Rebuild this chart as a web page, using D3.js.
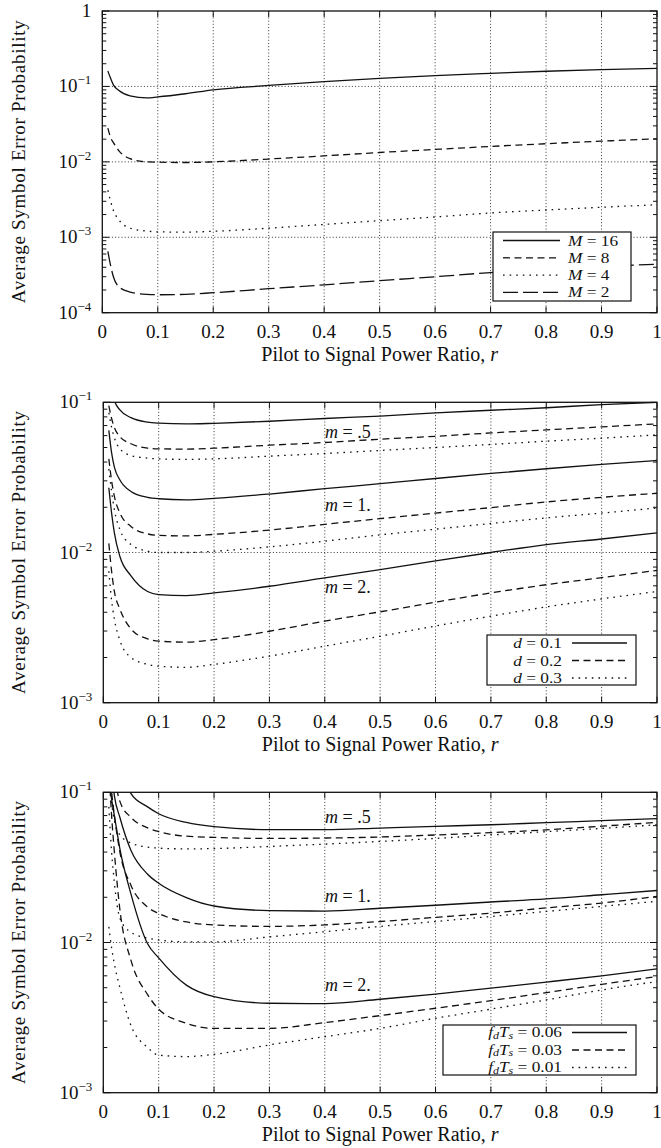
<!DOCTYPE html>
<html><head><meta charset="utf-8">
<script src="https://cdn.jsdelivr.net/npm/d3@7"></script>
<style>
html,body{margin:0;padding:0;background:#fff;}
svg text{font-family:"Liberation Serif","DejaVu Serif",serif;fill:#111;}
</style></head>
<body><svg id="c" width="661" height="1148"></svg>
<script>
// ---------- data ----------
const rVals = [0.01,0.015,0.02,0.03,0.05,0.08,0.1,0.15,0.2,0.3,0.4,0.5,0.6,0.7,0.8,0.9,1.0];
const xTicks = [0,0.1,0.2,0.3,0.4,0.5,0.6,0.7,0.8,0.9,1];
const xTickLabels = ["0","0.1","0.2","0.3","0.4","0.5","0.6","0.7","0.8","0.9","1"];

// Panel 1: M-ary
const p1Names = ["16","8","4","2"];
const p1M16 = [0.16,0.128,0.105,0.088,0.075,0.0705,0.0726,0.080,0.090,0.103,0.116,0.128,0.139,0.149,0.159,0.167,0.174];
const p1M8  = [0.028,0.021,0.018,0.014,0.011,0.0100,0.0099,0.0098,0.0100,0.0109,0.0120,0.0133,0.0146,0.0160,0.0174,0.0188,0.0202];
const p1M4  = [0.0042,0.0030,0.00227,0.0017,0.00132,0.00121,0.00118,0.00117,0.0012,0.00132,0.00148,0.00166,0.00186,0.0021,0.0023,0.0025,0.0027];
const p1M2  = [6.5e-4,4.2e-4,3.0e-4,2.2e-4,1.88e-4,1.75e-4,1.73e-4,1.75e-4,1.84e-4,2.08e-4,2.34e-4,2.66e-4,3.0e-4,3.4e-4,3.75e-4,4.1e-4,4.4e-4];

// Panel 2: d = 0.1, 0.2, 0.3 for m = .5, 1, 2
const p2Names = ["0.1","0.2","0.3"];
const p2m05d1 = [0.16,0.125,0.103,0.089,0.079,0.0738,0.0727,0.0718,0.0725,0.0748,0.078,0.081,0.085,0.0885,0.092,0.0965,0.100];
const p2m05d2 = [0.095,0.078,0.068,0.059,0.053,0.0495,0.049,0.0488,0.0495,0.0518,0.054,0.0568,0.0594,0.0625,0.0655,0.0686,0.0718];
const p2m05d3 = [0.085,0.068,0.058,0.049,0.0442,0.0425,0.042,0.0417,0.042,0.0438,0.0456,0.0478,0.050,0.0524,0.0551,0.0577,0.0607];
const p2m1d1  = [0.065,0.046,0.037,0.0304,0.0255,0.0233,0.0228,0.0224,0.0229,0.0245,0.0266,0.0287,0.0311,0.0336,0.0361,0.0386,0.041];
const p2m1d2  = [0.042,0.030,0.0236,0.0183,0.0149,0.0133,0.0130,0.0129,0.0132,0.0141,0.0154,0.0168,0.0183,0.0199,0.0217,0.0233,0.0248];
const p2m1d3  = [0.036,0.0255,0.0193,0.0142,0.0113,0.0102,0.0100,0.0100,0.0102,0.0109,0.0119,0.0131,0.0143,0.0156,0.0170,0.0183,0.0198];
const p2m2d1  = [0.027,0.0183,0.0135,0.0094,0.0070,0.0055,0.00525,0.00517,0.00538,0.00596,0.00677,0.0077,0.0088,0.0100,0.0113,0.0123,0.0135];
const p2m2d2  = [0.0115,0.0075,0.0055,0.0042,0.0031,0.00266,0.00257,0.00253,0.00263,0.00299,0.00349,0.00403,0.00467,0.00538,0.0061,0.0068,0.0076];
const p2m2d3  = [0.0075,0.0048,0.0036,0.0026,0.0020,0.0018,0.00175,0.00172,0.0018,0.00204,0.00238,0.00277,0.00324,0.00377,0.00434,0.00491,0.0055];

// Panel 3: fdTs = 0.06, 0.03, 0.01 for m = .5, 1, 2
const p3Names = ["0.06","0.03","0.01"];
const p3m05f06 = [0.5,0.3,0.22,0.15,0.098,0.080,0.072,0.063,0.059,0.0564,0.0564,0.0578,0.0593,0.0608,0.0628,0.0647,0.0667];
const p3m05f03 = [0.3,0.18,0.13,0.087,0.068,0.058,0.0547,0.051,0.0501,0.0493,0.0496,0.0504,0.052,0.0539,0.0562,0.0595,0.063];
const p3m05f01 = [0.13,0.085,0.065,0.052,0.046,0.0432,0.0425,0.042,0.0422,0.0436,0.0452,0.0471,0.0493,0.052,0.0547,0.0575,0.0608];
const p3m1f06  = [0.22,0.14,0.095,0.068,0.041,0.0285,0.0248,0.0199,0.0175,0.0163,0.0162,0.0169,0.0177,0.0186,0.0195,0.0208,0.0222];
const p3m1f03  = [0.14,0.10,0.07,0.04,0.024,0.0172,0.0156,0.0137,0.0131,0.0128,0.0131,0.0138,0.0147,0.0157,0.0170,0.0183,0.0203];
const p3m1f01  = [0.08,0.04,0.025,0.0145,0.0117,0.0107,0.0104,0.0101,0.0101,0.0109,0.0118,0.0128,0.0138,0.0149,0.0161,0.0174,0.0188];
const p3m2f06  = [0.13,0.09,0.07,0.042,0.021,0.0098,0.0079,0.0052,0.00436,0.00394,0.00392,0.00419,0.00453,0.00497,0.00545,0.0060,0.00667];
const p3m2f03  = [0.15,0.07,0.04,0.0165,0.0076,0.0045,0.0036,0.0029,0.00268,0.00268,0.00293,0.00326,0.00365,0.0041,0.00464,0.00527,0.00593];
const p3m2f01  = [0.0127,0.0092,0.0072,0.005,0.0028,0.0020,0.00178,0.00174,0.0018,0.00208,0.00236,0.00268,0.00313,0.0036,0.00415,0.00483,0.0055];

const mLabels = [".5","1.","2."];

// ---------- drawing ----------
const svg = d3.select("#c");
const dash = {solid:null, dashed:"7,4.5", dotted:"1.6,5", longdash:"15,5"};
const LEG_FS = 15.2, LEG_STRETCH = 1.14;

function stretch(t){
  const w = t.node().getComputedTextLength();
  t.attr("textLength", w*LEG_STRETCH).attr("lengthAdjust","spacingAndGlyphs");
}

function panel(cfg){
  const g = svg.append("g");
  const x = d3.scaleLinear().domain([0,1]).range([cfg.x0,cfg.x1]);
  const y = d3.scaleLog().domain(cfg.ydom).range([cfg.y1,cfg.y0]);
  const id = "clip"+cfg.id;
  svg.append("defs").append("clipPath").attr("id",id).append("rect")
    .attr("x",cfg.x0).attr("y",cfg.y0).attr("width",cfg.x1-cfg.x0).attr("height",cfg.y1-cfg.y0);

  // grid
  const gridStyle = s=>s.attr("stroke","#222").attr("stroke-width",0.9).attr("stroke-dasharray","1,2.2");
  g.selectAll(".vg").data(xTicks.slice(1,-1)).enter().append("line")
    .attr("x1",d=>x(d)).attr("x2",d=>x(d)).attr("y1",cfg.y0).attr("y2",cfg.y1).call(gridStyle);
  const lo = Math.round(Math.log10(cfg.ydom[0])), hi = Math.round(Math.log10(cfg.ydom[1]));
  const decades = d3.range(lo,hi+1);
  g.selectAll(".hg").data(decades.slice(1,-1)).enter().append("line")
    .attr("x1",cfg.x0).attr("x2",cfg.x1).attr("y1",d=>y(Math.pow(10,d))).attr("y2",d=>y(Math.pow(10,d))).call(gridStyle);

  // ticks
  const tk = g.append("g").attr("stroke","#111").attr("stroke-width",1);
  xTicks.forEach(t=>{
    tk.append("line").attr("x1",x(t)).attr("x2",x(t)).attr("y1",cfg.y1).attr("y2",cfg.y1-6);
    tk.append("line").attr("x1",x(t)).attr("x2",x(t)).attr("y1",cfg.y0).attr("y2",cfg.y0+6);
  });
  decades.forEach(k=>{
    const v = Math.pow(10,k);
    tk.append("line").attr("x1",cfg.x0).attr("x2",cfg.x0+7).attr("y1",y(v)).attr("y2",y(v));
    tk.append("line").attr("x1",cfg.x1).attr("x2",cfg.x1-7).attr("y1",y(v)).attr("y2",y(v));
    if(k<hi) for(let j=2;j<=9;j++){
      const yy = y(j*v);
      tk.append("line").attr("x1",cfg.x0).attr("x2",cfg.x0+4).attr("y1",yy).attr("y2",yy);
      tk.append("line").attr("x1",cfg.x1).attr("x2",cfg.x1-4).attr("y1",yy).attr("y2",yy);
    }
  });

  // frame
  g.append("rect").attr("x",cfg.x0).attr("y",cfg.y0).attr("width",cfg.x1-cfg.x0).attr("height",cfg.y1-cfg.y0)
    .attr("fill","none").attr("stroke","#111").attr("stroke-width",1.3);

  // x tick labels
  g.selectAll(".xl").data(xTicks).enter().append("text")
    .attr("x",d=>x(d)).attr("y",cfg.y1+25).attr("text-anchor","middle")
    .attr("font-size",19).text((d,i)=>xTickLabels[i]);
  // y tick labels
  decades.forEach(k=>{
    const t = g.append("text").attr("x",cfg.x0-11).attr("y",y(Math.pow(10,k))+6)
      .attr("text-anchor","end").attr("font-size",19);
    if(k===0){ t.text("1"); }
    else {
      t.append("tspan").text("10");
      t.append("tspan").attr("dy",-8).attr("font-size",13).text("\u2212"+(-k));
    }
  });
  // axis titles
  const xt = g.append("text").attr("x",(cfg.x0+cfg.x1)/2).attr("y",cfg.y1+48).attr("text-anchor","middle")
    .attr("font-size",20);
  xt.append("tspan").text("Pilot to Signal Power Ratio, ");
  xt.append("tspan").attr("font-style","italic").text("r");
  g.append("text").attr("transform",`translate(${cfg.ylx},${(cfg.y0+cfg.y1)/2}) rotate(-90)`)
    .attr("text-anchor","middle").attr("font-size",19).attr("textLength",283).attr("lengthAdjust","spacing")
    .text("Average Symbol Error Probability");

  // curves
  const line = d3.line().x((d,i)=>x(rVals[i])).y(d=>y(d)).curve(d3.curveMonotoneX);
  const cg = g.append("g").attr("clip-path",`url(#${id})`);
  cfg.series.forEach(s=>{
    cg.append("path").attr("d",line(s.vals)).attr("fill","none").attr("stroke","#111")
      .attr("stroke-width",1.3).attr("stroke-dasharray",dash[s.style]);
  });
  return {g,x,y};
}

// Panel 1
const P1 = panel({id:1,x0:102.3,x1:657,y0:11,y1:312.7,ydom:[1e-4,1],ylx:25,
  series:[{vals:p1M16,style:"solid"},{vals:p1M8,style:"dashed"},{vals:p1M4,style:"dotted"},{vals:p1M2,style:"longdash"}]});
// legend 1
(function(){
  const g = P1.g, styles=["solid","dashed","dotted","longdash"], rows=[240.5,257.8,275.1,292.4];
  g.append("rect").attr("x",493).attr("y",232).attr("width",138).attr("height",69)
    .attr("fill","#fff").attr("stroke","#111").attr("stroke-width",1.2);
  p1Names.forEach((n,i)=>{
    g.append("line").attr("x1",503).attr("x2",560).attr("y1",rows[i]).attr("y2",rows[i])
      .attr("stroke","#111").attr("stroke-width",1.3).attr("stroke-dasharray",dash[styles[i]]);
    const t = g.append("text").attr("x",568).attr("y",rows[i]+5).attr("font-size",LEG_FS);
    t.append("tspan").attr("font-style","italic").text("M");
    t.append("tspan").text(" = "+n);
    stretch(t);
  });
})();

function mText(g,xp,yp,lab){
  const t = g.append("text").attr("x",xp).attr("y",yp+6).attr("font-size",18);
  t.append("tspan").attr("font-style","italic").text("m");
  t.append("tspan").text(" = "+lab);
}

// Panel 2
const P2 = panel({id:2,x0:103.3,x1:657,y0:402.3,y1:702.7,ydom:[1e-3,1e-1],ylx:25,
  series:[
    {vals:p2m05d1,style:"solid"},{vals:p2m05d2,style:"dashed"},{vals:p2m05d3,style:"dotted"},
    {vals:p2m1d1,style:"solid"},{vals:p2m1d2,style:"dashed"},{vals:p2m1d3,style:"dotted"},
    {vals:p2m2d1,style:"solid"},{vals:p2m2d2,style:"dashed"},{vals:p2m2d3,style:"dotted"}]});
mText(P2.g,325,432,mLabels[0]); mText(P2.g,325,505,mLabels[1]); mText(P2.g,325,587,mLabels[2]);
(function(){
  const g=P2.g, styles=["solid","dashed","dotted"], rows=[643,660.5,678];
  g.append("rect").attr("x",487).attr("y",635).attr("width",149).attr("height",50)
    .attr("fill","#fff").attr("stroke","#111").attr("stroke-width",1.2);
  p2Names.forEach((n,i)=>{
    const t=g.append("text").attr("x",562).attr("y",rows[i]+5).attr("font-size",LEG_FS).attr("text-anchor","end");
    t.append("tspan").attr("font-style","italic").text("d");
    t.append("tspan").text(" = "+n);
    stretch(t);
    g.append("line").attr("x1",572).attr("x2",627).attr("y1",rows[i]).attr("y2",rows[i])
      .attr("stroke","#111").attr("stroke-width",1.3).attr("stroke-dasharray",dash[styles[i]]);
  });
})();

// Panel 3
const P3 = panel({id:3,x0:103.3,x1:657,y0:792.3,y1:1092.7,ydom:[1e-3,1e-1],ylx:25,
  series:[
    {vals:p3m05f06,style:"solid"},{vals:p3m05f03,style:"dashed"},{vals:p3m05f01,style:"dotted"},
    {vals:p3m1f06,style:"solid"},{vals:p3m1f03,style:"dashed"},{vals:p3m1f01,style:"dotted"},
    {vals:p3m2f06,style:"solid"},{vals:p3m2f03,style:"dashed"},{vals:p3m2f01,style:"dotted"}]});
mText(P3.g,325,817,mLabels[0]); mText(P3.g,325,896,mLabels[1]); mText(P3.g,325,985,mLabels[2]);
(function(){
  const g=P3.g, styles=["solid","dashed","dotted"], rows=[1032.5,1050,1067.5];
  g.append("rect").attr("x",443).attr("y",1025).attr("width",193).attr("height",50)
    .attr("fill","#fff").attr("stroke","#111").attr("stroke-width",1.2);
  p3Names.forEach((n,i)=>{
    const t=g.append("text").attr("x",562).attr("y",rows[i]+4.5).attr("font-size",LEG_FS).attr("text-anchor","end");
    t.append("tspan").attr("font-style","italic").text("f");
    t.append("tspan").attr("font-style","italic").attr("font-size",10.5).attr("dy",1.5).text("d");
    t.append("tspan").attr("font-style","italic").attr("dy",-1.5).text("T");
    t.append("tspan").attr("font-style","italic").attr("font-size",10.5).attr("dy",1.5).text("s");
    t.append("tspan").attr("dy",-1.5).text(" = "+n);
    stretch(t);
    g.append("line").attr("x1",572).attr("x2",627).attr("y1",rows[i]).attr("y2",rows[i])
      .attr("stroke","#111").attr("stroke-width",1.3).attr("stroke-dasharray",dash[styles[i]]);
  });
})();
</script></body></html>
